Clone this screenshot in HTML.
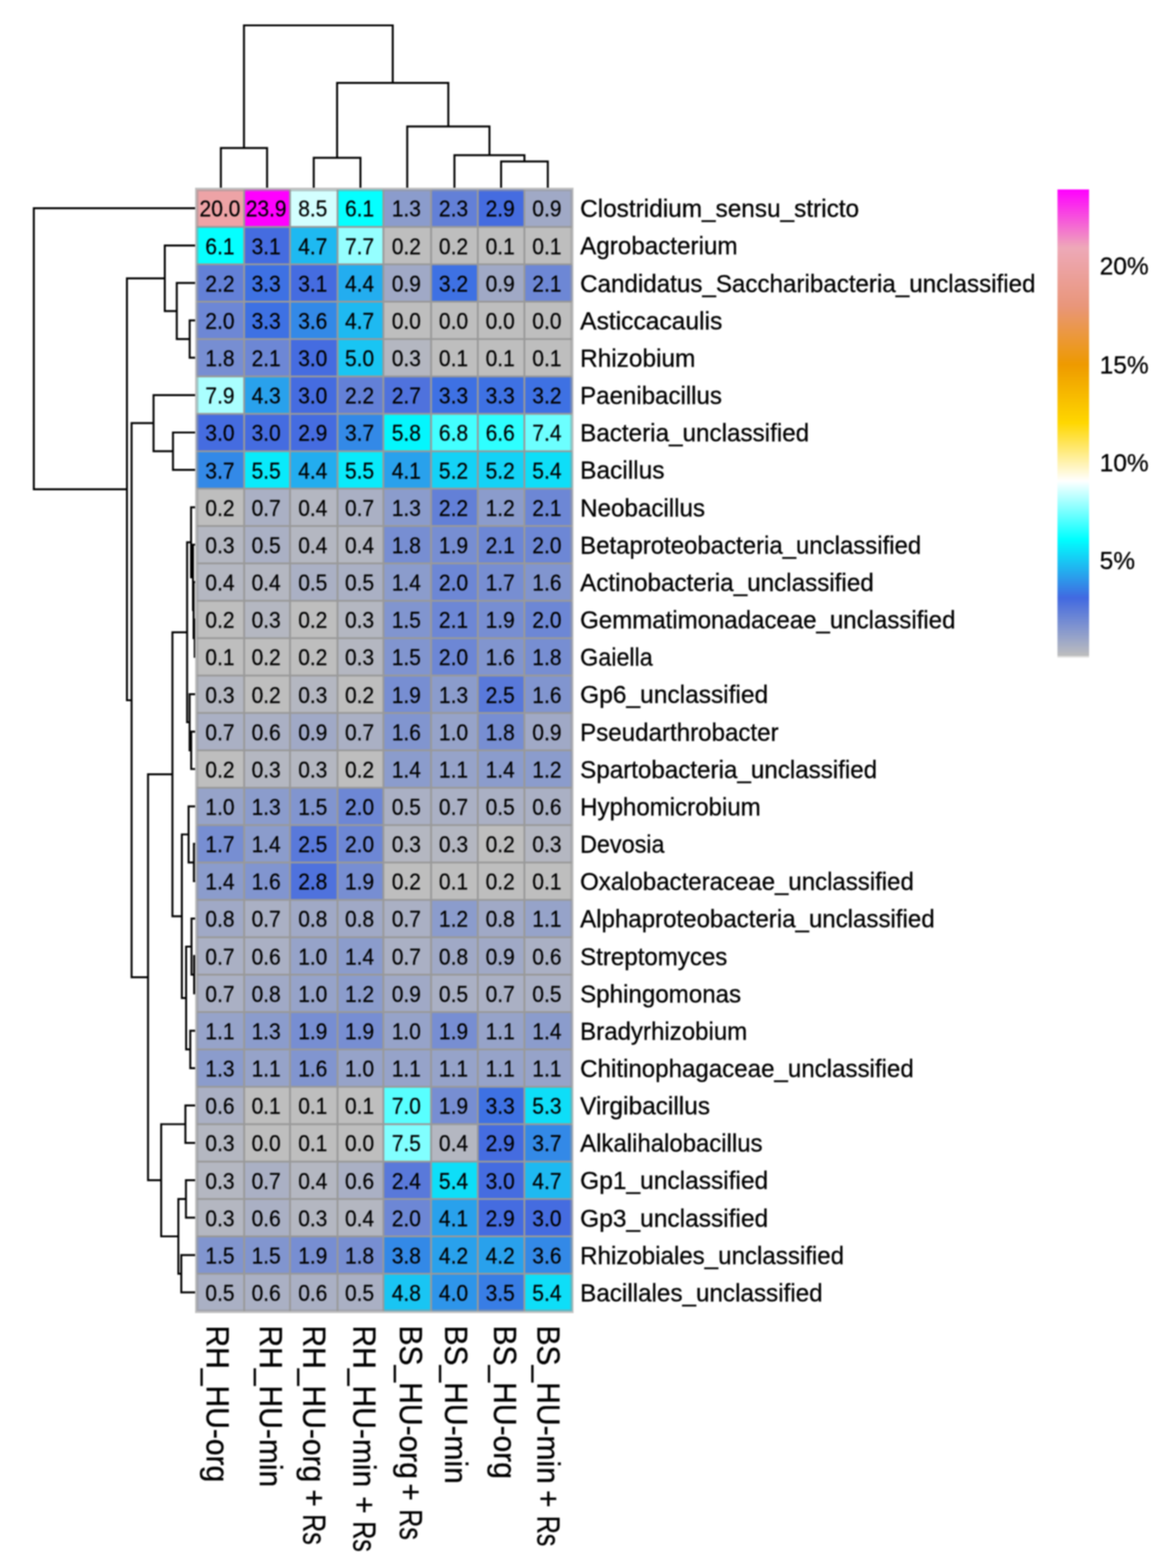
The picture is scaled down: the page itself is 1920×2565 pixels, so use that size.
<!DOCTYPE html>
<html><head><meta charset="utf-8"><title>Heatmap</title><style>html,body{margin:0;padding:0;background:#fff;}svg{display:block;filter:blur(1px);}</style></head><body>
<svg width="1920" height="2565" viewBox="0 0 1920 2565">
<rect width="1920" height="2565" fill="#FFFFFF"/>
<path d="M321.6 1013.3 L318.4 1013.3 L318.4 1074.5 L321.6 1074.5 M321.6 1563.8 L317.5 1563.8 L317.5 1624.9 L321.6 1624.9 M321.6 1380.3 L317.1 1380.3 L317.1 1441.5 L321.6 1441.5 M321.6 952.2 L316.6 952.2 L316.6 1043.9 L318.4 1043.9 M321.6 891.0 L315.6 891.0 L315.6 998.0 L316.6 998.0 M321.6 1502.6 L313.2 1502.6 L313.2 1594.4 L317.5 1594.4 M321.6 1196.8 L312.7 1196.8 L312.7 1258.0 L321.6 1258.0 M321.6 829.9 L312.5 829.9 L312.5 944.5 L315.6 944.5 M321.6 1686.1 L311.2 1686.1 L311.2 1747.3 L321.6 1747.3 M321.6 524.1 L310.2 524.1 L310.2 585.2 L321.6 585.2 M321.6 1135.7 L310.1 1135.7 L310.1 1227.4 L312.7 1227.4 M321.6 1319.1 L308.4 1319.1 L308.4 1410.9 L317.1 1410.9 M312.5 887.2 L306.0 887.2 L306.0 1181.5 L310.1 1181.5 M313.2 1548.5 L304.4 1548.5 L304.4 1716.7 L311.2 1716.7 M321.6 1930.7 L304.1 1930.7 L304.1 1991.9 L321.6 1991.9 M321.6 1808.4 L303.2 1808.4 L303.2 1869.6 L321.6 1869.6 M308.4 1365.0 L297.4 1365.0 L297.4 1632.6 L304.4 1632.6 M321.6 2053.1 L296.5 2053.1 L296.5 2114.2 L321.6 2114.2 M304.1 1961.3 L291.7 1961.3 L291.7 2083.6 L296.5 2083.6 M321.6 462.9 L289.1 462.9 L289.1 554.6 L310.2 554.6 M321.6 707.5 L282.9 707.5 L282.9 768.7 L321.6 768.7 M306.0 1034.4 L282.0 1034.4 L282.0 1498.8 L297.4 1498.8 M321.6 401.7 L269.5 401.7 L269.5 508.8 L289.1 508.8 M303.2 1839.0 L263.6 1839.0 L263.6 2022.5 L291.7 2022.5 M321.6 646.4 L251.1 646.4 L251.1 738.1 L282.9 738.1 M282.0 1266.6 L242.1 1266.6 L242.1 1930.7 L263.6 1930.7 M251.1 692.2 L215.2 692.2 L215.2 1598.7 L242.1 1598.7 M269.5 455.3 L207.6 455.3 L207.6 1145.5 L215.2 1145.5 M321.6 340.6 L55.3 340.6 L55.3 800.4 L207.6 800.4" fill="none" stroke="#000" stroke-width="3.2" stroke-linejoin="miter" stroke-linecap="square"/>
<path d="M819.5 310.2 L819.5 264.1 L895.9 264.1 L895.9 310.2 M513.1 310.2 L513.1 258.1 L589.5 258.1 L589.5 310.2 M743.2 310.2 L743.2 253.9 L857.7 253.9 L857.7 264.1 M361.2 310.2 L361.2 242.2 L436.8 242.2 L436.8 310.2 M666.0 310.2 L666.0 206.8 L800.5 206.8 L800.5 253.9 M551.3 258.1 L551.3 135.6 L733.2 135.6 L733.2 206.8 M399.0 242.2 L399.0 41.5 L642.3 41.5 L642.3 135.6" fill="none" stroke="#000" stroke-width="3.2" stroke-linejoin="miter" stroke-linecap="square"/>
<rect x="319" y="307" width="619" height="1841" fill="#C2C2C2"/>
<rect x="321.7" y="310.0" width="613.8" height="1835.0" fill="#999999"/>
<rect x="321.7" y="310.0" width="76.1" height="59.7" fill="#EDA3A6"/>
<rect x="400.8" y="310.0" width="72.0" height="59.7" fill="#FF00FF"/>
<rect x="475.8" y="310.0" width="74.7" height="59.7" fill="#D3FFFF"/>
<rect x="553.5" y="310.0" width="72.0" height="59.7" fill="#05FFFF"/>
<rect x="628.5" y="310.0" width="75.0" height="59.7" fill="#8B9CCC"/>
<rect x="706.5" y="310.0" width="73.4" height="59.7" fill="#6380D7"/>
<rect x="782.9" y="310.0" width="73.2" height="59.7" fill="#456CE0"/>
<rect x="859.1" y="310.0" width="76.4" height="59.7" fill="#A0A9C6"/>
<rect x="321.7" y="372.7" width="76.1" height="58.2" fill="#05FFFF"/>
<rect x="400.8" y="372.7" width="72.0" height="58.2" fill="#456CE0"/>
<rect x="475.8" y="372.7" width="74.7" height="58.2" fill="#1EB9F1"/>
<rect x="553.5" y="372.7" width="72.0" height="58.2" fill="#95FFFF"/>
<rect x="628.5" y="372.7" width="75.0" height="58.2" fill="#BEBEBE"/>
<rect x="706.5" y="372.7" width="73.4" height="58.2" fill="#BEBEBE"/>
<rect x="782.9" y="372.7" width="73.2" height="58.2" fill="#BEBEBE"/>
<rect x="859.1" y="372.7" width="76.4" height="58.2" fill="#BEBEBE"/>
<rect x="321.7" y="433.8" width="76.1" height="58.2" fill="#6380D7"/>
<rect x="400.8" y="433.8" width="72.0" height="58.2" fill="#3E71E3"/>
<rect x="475.8" y="433.8" width="74.7" height="58.2" fill="#456CE0"/>
<rect x="553.5" y="433.8" width="72.0" height="58.2" fill="#23ADEF"/>
<rect x="628.5" y="433.8" width="75.0" height="58.2" fill="#A0A9C6"/>
<rect x="706.5" y="433.8" width="73.4" height="58.2" fill="#3E71E3"/>
<rect x="782.9" y="433.8" width="73.2" height="58.2" fill="#A0A9C6"/>
<rect x="859.1" y="433.8" width="76.4" height="58.2" fill="#6D87D5"/>
<rect x="321.7" y="495.0" width="76.1" height="58.2" fill="#6D87D5"/>
<rect x="400.8" y="495.0" width="72.0" height="58.2" fill="#3E71E3"/>
<rect x="475.8" y="495.0" width="74.7" height="58.2" fill="#3389E7"/>
<rect x="553.5" y="495.0" width="72.0" height="58.2" fill="#1EB9F1"/>
<rect x="628.5" y="495.0" width="75.0" height="58.2" fill="#BEBEBE"/>
<rect x="706.5" y="495.0" width="73.4" height="58.2" fill="#BEBEBE"/>
<rect x="782.9" y="495.0" width="73.2" height="58.2" fill="#BEBEBE"/>
<rect x="859.1" y="495.0" width="76.4" height="58.2" fill="#BEBEBE"/>
<rect x="321.7" y="556.1" width="76.1" height="58.2" fill="#778ED2"/>
<rect x="400.8" y="556.1" width="72.0" height="58.2" fill="#6D87D5"/>
<rect x="475.8" y="556.1" width="74.7" height="58.2" fill="#456CE0"/>
<rect x="553.5" y="556.1" width="72.0" height="58.2" fill="#19C5F3"/>
<rect x="628.5" y="556.1" width="75.0" height="58.2" fill="#B4B7C1"/>
<rect x="706.5" y="556.1" width="73.4" height="58.2" fill="#BEBEBE"/>
<rect x="782.9" y="556.1" width="73.2" height="58.2" fill="#BEBEBE"/>
<rect x="859.1" y="556.1" width="76.4" height="58.2" fill="#BEBEBE"/>
<rect x="321.7" y="617.3" width="76.1" height="58.2" fill="#AAFFFF"/>
<rect x="400.8" y="617.3" width="72.0" height="58.2" fill="#29A1EC"/>
<rect x="475.8" y="617.3" width="74.7" height="58.2" fill="#456CE0"/>
<rect x="553.5" y="617.3" width="72.0" height="58.2" fill="#6380D7"/>
<rect x="628.5" y="617.3" width="75.0" height="58.2" fill="#4F72DD"/>
<rect x="706.5" y="617.3" width="73.4" height="58.2" fill="#3E71E3"/>
<rect x="782.9" y="617.3" width="73.2" height="58.2" fill="#3E71E3"/>
<rect x="859.1" y="617.3" width="76.4" height="58.2" fill="#3E71E3"/>
<rect x="321.7" y="678.5" width="76.1" height="58.2" fill="#456CE0"/>
<rect x="400.8" y="678.5" width="72.0" height="58.2" fill="#456CE0"/>
<rect x="475.8" y="678.5" width="74.7" height="58.2" fill="#456CE0"/>
<rect x="553.5" y="678.5" width="72.0" height="58.2" fill="#3389E7"/>
<rect x="628.5" y="678.5" width="75.0" height="58.2" fill="#04F6FD"/>
<rect x="706.5" y="678.5" width="73.4" height="58.2" fill="#43FFFF"/>
<rect x="782.9" y="678.5" width="73.2" height="58.2" fill="#2EFFFF"/>
<rect x="859.1" y="678.5" width="76.4" height="58.2" fill="#6CFFFF"/>
<rect x="321.7" y="739.6" width="76.1" height="58.2" fill="#3389E7"/>
<rect x="400.8" y="739.6" width="72.0" height="58.2" fill="#09EAFB"/>
<rect x="475.8" y="739.6" width="74.7" height="58.2" fill="#23ADEF"/>
<rect x="553.5" y="739.6" width="72.0" height="58.2" fill="#09EAFB"/>
<rect x="628.5" y="739.6" width="75.0" height="58.2" fill="#29A1EC"/>
<rect x="706.5" y="739.6" width="73.4" height="58.2" fill="#14D2F6"/>
<rect x="782.9" y="739.6" width="73.2" height="58.2" fill="#14D2F6"/>
<rect x="859.1" y="739.6" width="76.4" height="58.2" fill="#0EDEF8"/>
<rect x="321.7" y="800.8" width="76.1" height="58.2" fill="#BEBEBE"/>
<rect x="400.8" y="800.8" width="72.0" height="58.2" fill="#AAB0C4"/>
<rect x="475.8" y="800.8" width="74.7" height="58.2" fill="#B4B7C1"/>
<rect x="553.5" y="800.8" width="72.0" height="58.2" fill="#AAB0C4"/>
<rect x="628.5" y="800.8" width="75.0" height="58.2" fill="#8B9CCC"/>
<rect x="706.5" y="800.8" width="73.4" height="58.2" fill="#6380D7"/>
<rect x="782.9" y="800.8" width="73.2" height="58.2" fill="#8B9CCC"/>
<rect x="859.1" y="800.8" width="76.4" height="58.2" fill="#6D87D5"/>
<rect x="321.7" y="861.9" width="76.1" height="58.2" fill="#B4B7C1"/>
<rect x="400.8" y="861.9" width="72.0" height="58.2" fill="#AAB0C4"/>
<rect x="475.8" y="861.9" width="74.7" height="58.2" fill="#B4B7C1"/>
<rect x="553.5" y="861.9" width="72.0" height="58.2" fill="#B4B7C1"/>
<rect x="628.5" y="861.9" width="75.0" height="58.2" fill="#778ED2"/>
<rect x="706.5" y="861.9" width="73.4" height="58.2" fill="#778ED2"/>
<rect x="782.9" y="861.9" width="73.2" height="58.2" fill="#6D87D5"/>
<rect x="859.1" y="861.9" width="76.4" height="58.2" fill="#6D87D5"/>
<rect x="321.7" y="923.1" width="76.1" height="58.2" fill="#B4B7C1"/>
<rect x="400.8" y="923.1" width="72.0" height="58.2" fill="#B4B7C1"/>
<rect x="475.8" y="923.1" width="74.7" height="58.2" fill="#AAB0C4"/>
<rect x="553.5" y="923.1" width="72.0" height="58.2" fill="#AAB0C4"/>
<rect x="628.5" y="923.1" width="75.0" height="58.2" fill="#8B9CCC"/>
<rect x="706.5" y="923.1" width="73.4" height="58.2" fill="#6D87D5"/>
<rect x="782.9" y="923.1" width="73.2" height="58.2" fill="#778ED2"/>
<rect x="859.1" y="923.1" width="76.4" height="58.2" fill="#8195CF"/>
<rect x="321.7" y="984.3" width="76.1" height="58.2" fill="#BEBEBE"/>
<rect x="400.8" y="984.3" width="72.0" height="58.2" fill="#B4B7C1"/>
<rect x="475.8" y="984.3" width="74.7" height="58.2" fill="#BEBEBE"/>
<rect x="553.5" y="984.3" width="72.0" height="58.2" fill="#B4B7C1"/>
<rect x="628.5" y="984.3" width="75.0" height="58.2" fill="#8195CF"/>
<rect x="706.5" y="984.3" width="73.4" height="58.2" fill="#6D87D5"/>
<rect x="782.9" y="984.3" width="73.2" height="58.2" fill="#778ED2"/>
<rect x="859.1" y="984.3" width="76.4" height="58.2" fill="#6D87D5"/>
<rect x="321.7" y="1045.4" width="76.1" height="58.2" fill="#BEBEBE"/>
<rect x="400.8" y="1045.4" width="72.0" height="58.2" fill="#BEBEBE"/>
<rect x="475.8" y="1045.4" width="74.7" height="58.2" fill="#BEBEBE"/>
<rect x="553.5" y="1045.4" width="72.0" height="58.2" fill="#B4B7C1"/>
<rect x="628.5" y="1045.4" width="75.0" height="58.2" fill="#8195CF"/>
<rect x="706.5" y="1045.4" width="73.4" height="58.2" fill="#6D87D5"/>
<rect x="782.9" y="1045.4" width="73.2" height="58.2" fill="#8195CF"/>
<rect x="859.1" y="1045.4" width="76.4" height="58.2" fill="#778ED2"/>
<rect x="321.7" y="1106.6" width="76.1" height="58.2" fill="#B4B7C1"/>
<rect x="400.8" y="1106.6" width="72.0" height="58.2" fill="#BEBEBE"/>
<rect x="475.8" y="1106.6" width="74.7" height="58.2" fill="#B4B7C1"/>
<rect x="553.5" y="1106.6" width="72.0" height="58.2" fill="#BEBEBE"/>
<rect x="628.5" y="1106.6" width="75.0" height="58.2" fill="#778ED2"/>
<rect x="706.5" y="1106.6" width="73.4" height="58.2" fill="#8B9CCC"/>
<rect x="782.9" y="1106.6" width="73.2" height="58.2" fill="#5979DA"/>
<rect x="859.1" y="1106.6" width="76.4" height="58.2" fill="#8195CF"/>
<rect x="321.7" y="1167.7" width="76.1" height="58.2" fill="#AAB0C4"/>
<rect x="400.8" y="1167.7" width="72.0" height="58.2" fill="#AAB0C4"/>
<rect x="475.8" y="1167.7" width="74.7" height="58.2" fill="#A0A9C6"/>
<rect x="553.5" y="1167.7" width="72.0" height="58.2" fill="#AAB0C4"/>
<rect x="628.5" y="1167.7" width="75.0" height="58.2" fill="#8195CF"/>
<rect x="706.5" y="1167.7" width="73.4" height="58.2" fill="#96A3C9"/>
<rect x="782.9" y="1167.7" width="73.2" height="58.2" fill="#778ED2"/>
<rect x="859.1" y="1167.7" width="76.4" height="58.2" fill="#A0A9C6"/>
<rect x="321.7" y="1228.9" width="76.1" height="58.2" fill="#BEBEBE"/>
<rect x="400.8" y="1228.9" width="72.0" height="58.2" fill="#B4B7C1"/>
<rect x="475.8" y="1228.9" width="74.7" height="58.2" fill="#B4B7C1"/>
<rect x="553.5" y="1228.9" width="72.0" height="58.2" fill="#BEBEBE"/>
<rect x="628.5" y="1228.9" width="75.0" height="58.2" fill="#8B9CCC"/>
<rect x="706.5" y="1228.9" width="73.4" height="58.2" fill="#96A3C9"/>
<rect x="782.9" y="1228.9" width="73.2" height="58.2" fill="#8B9CCC"/>
<rect x="859.1" y="1228.9" width="76.4" height="58.2" fill="#8B9CCC"/>
<rect x="321.7" y="1290.1" width="76.1" height="58.2" fill="#96A3C9"/>
<rect x="400.8" y="1290.1" width="72.0" height="58.2" fill="#8B9CCC"/>
<rect x="475.8" y="1290.1" width="74.7" height="58.2" fill="#8195CF"/>
<rect x="553.5" y="1290.1" width="72.0" height="58.2" fill="#6D87D5"/>
<rect x="628.5" y="1290.1" width="75.0" height="58.2" fill="#AAB0C4"/>
<rect x="706.5" y="1290.1" width="73.4" height="58.2" fill="#AAB0C4"/>
<rect x="782.9" y="1290.1" width="73.2" height="58.2" fill="#AAB0C4"/>
<rect x="859.1" y="1290.1" width="76.4" height="58.2" fill="#AAB0C4"/>
<rect x="321.7" y="1351.2" width="76.1" height="58.2" fill="#778ED2"/>
<rect x="400.8" y="1351.2" width="72.0" height="58.2" fill="#8B9CCC"/>
<rect x="475.8" y="1351.2" width="74.7" height="58.2" fill="#5979DA"/>
<rect x="553.5" y="1351.2" width="72.0" height="58.2" fill="#6D87D5"/>
<rect x="628.5" y="1351.2" width="75.0" height="58.2" fill="#B4B7C1"/>
<rect x="706.5" y="1351.2" width="73.4" height="58.2" fill="#B4B7C1"/>
<rect x="782.9" y="1351.2" width="73.2" height="58.2" fill="#BEBEBE"/>
<rect x="859.1" y="1351.2" width="76.4" height="58.2" fill="#B4B7C1"/>
<rect x="321.7" y="1412.4" width="76.1" height="58.2" fill="#8B9CCC"/>
<rect x="400.8" y="1412.4" width="72.0" height="58.2" fill="#8195CF"/>
<rect x="475.8" y="1412.4" width="74.7" height="58.2" fill="#4F72DD"/>
<rect x="553.5" y="1412.4" width="72.0" height="58.2" fill="#778ED2"/>
<rect x="628.5" y="1412.4" width="75.0" height="58.2" fill="#BEBEBE"/>
<rect x="706.5" y="1412.4" width="73.4" height="58.2" fill="#BEBEBE"/>
<rect x="782.9" y="1412.4" width="73.2" height="58.2" fill="#BEBEBE"/>
<rect x="859.1" y="1412.4" width="76.4" height="58.2" fill="#BEBEBE"/>
<rect x="321.7" y="1473.5" width="76.1" height="58.2" fill="#A0A9C6"/>
<rect x="400.8" y="1473.5" width="72.0" height="58.2" fill="#AAB0C4"/>
<rect x="475.8" y="1473.5" width="74.7" height="58.2" fill="#A0A9C6"/>
<rect x="553.5" y="1473.5" width="72.0" height="58.2" fill="#A0A9C6"/>
<rect x="628.5" y="1473.5" width="75.0" height="58.2" fill="#AAB0C4"/>
<rect x="706.5" y="1473.5" width="73.4" height="58.2" fill="#8B9CCC"/>
<rect x="782.9" y="1473.5" width="73.2" height="58.2" fill="#A0A9C6"/>
<rect x="859.1" y="1473.5" width="76.4" height="58.2" fill="#96A3C9"/>
<rect x="321.7" y="1534.7" width="76.1" height="58.2" fill="#AAB0C4"/>
<rect x="400.8" y="1534.7" width="72.0" height="58.2" fill="#AAB0C4"/>
<rect x="475.8" y="1534.7" width="74.7" height="58.2" fill="#96A3C9"/>
<rect x="553.5" y="1534.7" width="72.0" height="58.2" fill="#8B9CCC"/>
<rect x="628.5" y="1534.7" width="75.0" height="58.2" fill="#AAB0C4"/>
<rect x="706.5" y="1534.7" width="73.4" height="58.2" fill="#A0A9C6"/>
<rect x="782.9" y="1534.7" width="73.2" height="58.2" fill="#A0A9C6"/>
<rect x="859.1" y="1534.7" width="76.4" height="58.2" fill="#AAB0C4"/>
<rect x="321.7" y="1595.9" width="76.1" height="58.2" fill="#AAB0C4"/>
<rect x="400.8" y="1595.9" width="72.0" height="58.2" fill="#A0A9C6"/>
<rect x="475.8" y="1595.9" width="74.7" height="58.2" fill="#96A3C9"/>
<rect x="553.5" y="1595.9" width="72.0" height="58.2" fill="#8B9CCC"/>
<rect x="628.5" y="1595.9" width="75.0" height="58.2" fill="#A0A9C6"/>
<rect x="706.5" y="1595.9" width="73.4" height="58.2" fill="#AAB0C4"/>
<rect x="782.9" y="1595.9" width="73.2" height="58.2" fill="#AAB0C4"/>
<rect x="859.1" y="1595.9" width="76.4" height="58.2" fill="#AAB0C4"/>
<rect x="321.7" y="1657.0" width="76.1" height="58.2" fill="#96A3C9"/>
<rect x="400.8" y="1657.0" width="72.0" height="58.2" fill="#8B9CCC"/>
<rect x="475.8" y="1657.0" width="74.7" height="58.2" fill="#778ED2"/>
<rect x="553.5" y="1657.0" width="72.0" height="58.2" fill="#778ED2"/>
<rect x="628.5" y="1657.0" width="75.0" height="58.2" fill="#96A3C9"/>
<rect x="706.5" y="1657.0" width="73.4" height="58.2" fill="#778ED2"/>
<rect x="782.9" y="1657.0" width="73.2" height="58.2" fill="#96A3C9"/>
<rect x="859.1" y="1657.0" width="76.4" height="58.2" fill="#8B9CCC"/>
<rect x="321.7" y="1718.2" width="76.1" height="58.2" fill="#8B9CCC"/>
<rect x="400.8" y="1718.2" width="72.0" height="58.2" fill="#96A3C9"/>
<rect x="475.8" y="1718.2" width="74.7" height="58.2" fill="#8195CF"/>
<rect x="553.5" y="1718.2" width="72.0" height="58.2" fill="#96A3C9"/>
<rect x="628.5" y="1718.2" width="75.0" height="58.2" fill="#96A3C9"/>
<rect x="706.5" y="1718.2" width="73.4" height="58.2" fill="#96A3C9"/>
<rect x="782.9" y="1718.2" width="73.2" height="58.2" fill="#96A3C9"/>
<rect x="859.1" y="1718.2" width="76.4" height="58.2" fill="#96A3C9"/>
<rect x="321.7" y="1779.3" width="76.1" height="58.2" fill="#AAB0C4"/>
<rect x="400.8" y="1779.3" width="72.0" height="58.2" fill="#BEBEBE"/>
<rect x="475.8" y="1779.3" width="74.7" height="58.2" fill="#BEBEBE"/>
<rect x="553.5" y="1779.3" width="72.0" height="58.2" fill="#BEBEBE"/>
<rect x="628.5" y="1779.3" width="75.0" height="58.2" fill="#58FFFF"/>
<rect x="706.5" y="1779.3" width="73.4" height="58.2" fill="#778ED2"/>
<rect x="782.9" y="1779.3" width="73.2" height="58.2" fill="#3E71E3"/>
<rect x="859.1" y="1779.3" width="76.4" height="58.2" fill="#0EDEF8"/>
<rect x="321.7" y="1840.5" width="76.1" height="58.2" fill="#B4B7C1"/>
<rect x="400.8" y="1840.5" width="72.0" height="58.2" fill="#BEBEBE"/>
<rect x="475.8" y="1840.5" width="74.7" height="58.2" fill="#BEBEBE"/>
<rect x="553.5" y="1840.5" width="72.0" height="58.2" fill="#BEBEBE"/>
<rect x="628.5" y="1840.5" width="75.0" height="58.2" fill="#81FFFF"/>
<rect x="706.5" y="1840.5" width="73.4" height="58.2" fill="#B4B7C1"/>
<rect x="782.9" y="1840.5" width="73.2" height="58.2" fill="#456CE0"/>
<rect x="859.1" y="1840.5" width="76.4" height="58.2" fill="#3389E7"/>
<rect x="321.7" y="1901.7" width="76.1" height="58.2" fill="#B4B7C1"/>
<rect x="400.8" y="1901.7" width="72.0" height="58.2" fill="#AAB0C4"/>
<rect x="475.8" y="1901.7" width="74.7" height="58.2" fill="#B4B7C1"/>
<rect x="553.5" y="1901.7" width="72.0" height="58.2" fill="#AAB0C4"/>
<rect x="628.5" y="1901.7" width="75.0" height="58.2" fill="#5979DA"/>
<rect x="706.5" y="1901.7" width="73.4" height="58.2" fill="#0EDEF8"/>
<rect x="782.9" y="1901.7" width="73.2" height="58.2" fill="#456CE0"/>
<rect x="859.1" y="1901.7" width="76.4" height="58.2" fill="#1EB9F1"/>
<rect x="321.7" y="1962.8" width="76.1" height="58.2" fill="#B4B7C1"/>
<rect x="400.8" y="1962.8" width="72.0" height="58.2" fill="#AAB0C4"/>
<rect x="475.8" y="1962.8" width="74.7" height="58.2" fill="#B4B7C1"/>
<rect x="553.5" y="1962.8" width="72.0" height="58.2" fill="#B4B7C1"/>
<rect x="628.5" y="1962.8" width="75.0" height="58.2" fill="#6D87D5"/>
<rect x="706.5" y="1962.8" width="73.4" height="58.2" fill="#29A1EC"/>
<rect x="782.9" y="1962.8" width="73.2" height="58.2" fill="#456CE0"/>
<rect x="859.1" y="1962.8" width="76.4" height="58.2" fill="#456CE0"/>
<rect x="321.7" y="2024.0" width="76.1" height="58.2" fill="#8195CF"/>
<rect x="400.8" y="2024.0" width="72.0" height="58.2" fill="#8195CF"/>
<rect x="475.8" y="2024.0" width="74.7" height="58.2" fill="#778ED2"/>
<rect x="553.5" y="2024.0" width="72.0" height="58.2" fill="#778ED2"/>
<rect x="628.5" y="2024.0" width="75.0" height="58.2" fill="#3389E7"/>
<rect x="706.5" y="2024.0" width="73.4" height="58.2" fill="#29A1EC"/>
<rect x="782.9" y="2024.0" width="73.2" height="58.2" fill="#29A1EC"/>
<rect x="859.1" y="2024.0" width="76.4" height="58.2" fill="#3389E7"/>
<rect x="321.7" y="2085.1" width="76.1" height="59.9" fill="#AAB0C4"/>
<rect x="400.8" y="2085.1" width="72.0" height="59.9" fill="#AAB0C4"/>
<rect x="475.8" y="2085.1" width="74.7" height="59.9" fill="#AAB0C4"/>
<rect x="553.5" y="2085.1" width="72.0" height="59.9" fill="#AAB0C4"/>
<rect x="628.5" y="2085.1" width="75.0" height="59.9" fill="#19C5F3"/>
<rect x="706.5" y="2085.1" width="73.4" height="59.9" fill="#2E95EA"/>
<rect x="782.9" y="2085.1" width="73.2" height="59.9" fill="#387DE5"/>
<rect x="859.1" y="2085.1" width="76.4" height="59.9" fill="#0EDEF8"/>
<path d="M321.7 310.0H935.5V2145.0H321.7Z M324.59999999999997 312.9V2142.1H932.6V312.9Z" fill="#999999" fill-opacity="0.55" fill-rule="evenodd"/>
<g font-family="Liberation Sans, Arial, sans-serif" font-size="34.3" fill="#000" stroke="#000" stroke-width="0.3" text-anchor="middle">
<text transform="translate(359.7 354.4) scale(1 1.05)">20.0</text>
<text transform="translate(435.3 354.4) scale(1 1.05)">23.9</text>
<text transform="translate(511.6 354.4) scale(1 1.05)">8.5</text>
<text transform="translate(588.0 354.4) scale(1 1.05)">6.1</text>
<text transform="translate(664.5 354.4) scale(1 1.05)">1.3</text>
<text transform="translate(741.7 354.4) scale(1 1.05)">2.3</text>
<text transform="translate(818.0 354.4) scale(1 1.05)">2.9</text>
<text transform="translate(894.4 354.4) scale(1 1.05)">0.9</text>
<text transform="translate(359.7 415.5) scale(1 1.05)">6.1</text>
<text transform="translate(435.3 415.5) scale(1 1.05)">3.1</text>
<text transform="translate(511.6 415.5) scale(1 1.05)">4.7</text>
<text transform="translate(588.0 415.5) scale(1 1.05)">7.7</text>
<text transform="translate(664.5 415.5) scale(1 1.05)">0.2</text>
<text transform="translate(741.7 415.5) scale(1 1.05)">0.2</text>
<text transform="translate(818.0 415.5) scale(1 1.05)">0.1</text>
<text transform="translate(894.4 415.5) scale(1 1.05)">0.1</text>
<text transform="translate(359.7 476.7) scale(1 1.05)">2.2</text>
<text transform="translate(435.3 476.7) scale(1 1.05)">3.3</text>
<text transform="translate(511.6 476.7) scale(1 1.05)">3.1</text>
<text transform="translate(588.0 476.7) scale(1 1.05)">4.4</text>
<text transform="translate(664.5 476.7) scale(1 1.05)">0.9</text>
<text transform="translate(741.7 476.7) scale(1 1.05)">3.2</text>
<text transform="translate(818.0 476.7) scale(1 1.05)">0.9</text>
<text transform="translate(894.4 476.7) scale(1 1.05)">2.1</text>
<text transform="translate(359.7 537.9) scale(1 1.05)">2.0</text>
<text transform="translate(435.3 537.9) scale(1 1.05)">3.3</text>
<text transform="translate(511.6 537.9) scale(1 1.05)">3.6</text>
<text transform="translate(588.0 537.9) scale(1 1.05)">4.7</text>
<text transform="translate(664.5 537.9) scale(1 1.05)">0.0</text>
<text transform="translate(741.7 537.9) scale(1 1.05)">0.0</text>
<text transform="translate(818.0 537.9) scale(1 1.05)">0.0</text>
<text transform="translate(894.4 537.9) scale(1 1.05)">0.0</text>
<text transform="translate(359.7 599.0) scale(1 1.05)">1.8</text>
<text transform="translate(435.3 599.0) scale(1 1.05)">2.1</text>
<text transform="translate(511.6 599.0) scale(1 1.05)">3.0</text>
<text transform="translate(588.0 599.0) scale(1 1.05)">5.0</text>
<text transform="translate(664.5 599.0) scale(1 1.05)">0.3</text>
<text transform="translate(741.7 599.0) scale(1 1.05)">0.1</text>
<text transform="translate(818.0 599.0) scale(1 1.05)">0.1</text>
<text transform="translate(894.4 599.0) scale(1 1.05)">0.1</text>
<text transform="translate(359.7 660.2) scale(1 1.05)">7.9</text>
<text transform="translate(435.3 660.2) scale(1 1.05)">4.3</text>
<text transform="translate(511.6 660.2) scale(1 1.05)">3.0</text>
<text transform="translate(588.0 660.2) scale(1 1.05)">2.2</text>
<text transform="translate(664.5 660.2) scale(1 1.05)">2.7</text>
<text transform="translate(741.7 660.2) scale(1 1.05)">3.3</text>
<text transform="translate(818.0 660.2) scale(1 1.05)">3.3</text>
<text transform="translate(894.4 660.2) scale(1 1.05)">3.2</text>
<text transform="translate(359.7 721.3) scale(1 1.05)">3.0</text>
<text transform="translate(435.3 721.3) scale(1 1.05)">3.0</text>
<text transform="translate(511.6 721.3) scale(1 1.05)">2.9</text>
<text transform="translate(588.0 721.3) scale(1 1.05)">3.7</text>
<text transform="translate(664.5 721.3) scale(1 1.05)">5.8</text>
<text transform="translate(741.7 721.3) scale(1 1.05)">6.8</text>
<text transform="translate(818.0 721.3) scale(1 1.05)">6.6</text>
<text transform="translate(894.4 721.3) scale(1 1.05)">7.4</text>
<text transform="translate(359.7 782.5) scale(1 1.05)">3.7</text>
<text transform="translate(435.3 782.5) scale(1 1.05)">5.5</text>
<text transform="translate(511.6 782.5) scale(1 1.05)">4.4</text>
<text transform="translate(588.0 782.5) scale(1 1.05)">5.5</text>
<text transform="translate(664.5 782.5) scale(1 1.05)">4.1</text>
<text transform="translate(741.7 782.5) scale(1 1.05)">5.2</text>
<text transform="translate(818.0 782.5) scale(1 1.05)">5.2</text>
<text transform="translate(894.4 782.5) scale(1 1.05)">5.4</text>
<text transform="translate(359.7 843.7) scale(1 1.05)">0.2</text>
<text transform="translate(435.3 843.7) scale(1 1.05)">0.7</text>
<text transform="translate(511.6 843.7) scale(1 1.05)">0.4</text>
<text transform="translate(588.0 843.7) scale(1 1.05)">0.7</text>
<text transform="translate(664.5 843.7) scale(1 1.05)">1.3</text>
<text transform="translate(741.7 843.7) scale(1 1.05)">2.2</text>
<text transform="translate(818.0 843.7) scale(1 1.05)">1.2</text>
<text transform="translate(894.4 843.7) scale(1 1.05)">2.1</text>
<text transform="translate(359.7 904.8) scale(1 1.05)">0.3</text>
<text transform="translate(435.3 904.8) scale(1 1.05)">0.5</text>
<text transform="translate(511.6 904.8) scale(1 1.05)">0.4</text>
<text transform="translate(588.0 904.8) scale(1 1.05)">0.4</text>
<text transform="translate(664.5 904.8) scale(1 1.05)">1.8</text>
<text transform="translate(741.7 904.8) scale(1 1.05)">1.9</text>
<text transform="translate(818.0 904.8) scale(1 1.05)">2.1</text>
<text transform="translate(894.4 904.8) scale(1 1.05)">2.0</text>
<text transform="translate(359.7 966.0) scale(1 1.05)">0.4</text>
<text transform="translate(435.3 966.0) scale(1 1.05)">0.4</text>
<text transform="translate(511.6 966.0) scale(1 1.05)">0.5</text>
<text transform="translate(588.0 966.0) scale(1 1.05)">0.5</text>
<text transform="translate(664.5 966.0) scale(1 1.05)">1.4</text>
<text transform="translate(741.7 966.0) scale(1 1.05)">2.0</text>
<text transform="translate(818.0 966.0) scale(1 1.05)">1.7</text>
<text transform="translate(894.4 966.0) scale(1 1.05)">1.6</text>
<text transform="translate(359.7 1027.1) scale(1 1.05)">0.2</text>
<text transform="translate(435.3 1027.1) scale(1 1.05)">0.3</text>
<text transform="translate(511.6 1027.1) scale(1 1.05)">0.2</text>
<text transform="translate(588.0 1027.1) scale(1 1.05)">0.3</text>
<text transform="translate(664.5 1027.1) scale(1 1.05)">1.5</text>
<text transform="translate(741.7 1027.1) scale(1 1.05)">2.1</text>
<text transform="translate(818.0 1027.1) scale(1 1.05)">1.9</text>
<text transform="translate(894.4 1027.1) scale(1 1.05)">2.0</text>
<text transform="translate(359.7 1088.3) scale(1 1.05)">0.1</text>
<text transform="translate(435.3 1088.3) scale(1 1.05)">0.2</text>
<text transform="translate(511.6 1088.3) scale(1 1.05)">0.2</text>
<text transform="translate(588.0 1088.3) scale(1 1.05)">0.3</text>
<text transform="translate(664.5 1088.3) scale(1 1.05)">1.5</text>
<text transform="translate(741.7 1088.3) scale(1 1.05)">2.0</text>
<text transform="translate(818.0 1088.3) scale(1 1.05)">1.6</text>
<text transform="translate(894.4 1088.3) scale(1 1.05)">1.8</text>
<text transform="translate(359.7 1149.5) scale(1 1.05)">0.3</text>
<text transform="translate(435.3 1149.5) scale(1 1.05)">0.2</text>
<text transform="translate(511.6 1149.5) scale(1 1.05)">0.3</text>
<text transform="translate(588.0 1149.5) scale(1 1.05)">0.2</text>
<text transform="translate(664.5 1149.5) scale(1 1.05)">1.9</text>
<text transform="translate(741.7 1149.5) scale(1 1.05)">1.3</text>
<text transform="translate(818.0 1149.5) scale(1 1.05)">2.5</text>
<text transform="translate(894.4 1149.5) scale(1 1.05)">1.6</text>
<text transform="translate(359.7 1210.6) scale(1 1.05)">0.7</text>
<text transform="translate(435.3 1210.6) scale(1 1.05)">0.6</text>
<text transform="translate(511.6 1210.6) scale(1 1.05)">0.9</text>
<text transform="translate(588.0 1210.6) scale(1 1.05)">0.7</text>
<text transform="translate(664.5 1210.6) scale(1 1.05)">1.6</text>
<text transform="translate(741.7 1210.6) scale(1 1.05)">1.0</text>
<text transform="translate(818.0 1210.6) scale(1 1.05)">1.8</text>
<text transform="translate(894.4 1210.6) scale(1 1.05)">0.9</text>
<text transform="translate(359.7 1271.8) scale(1 1.05)">0.2</text>
<text transform="translate(435.3 1271.8) scale(1 1.05)">0.3</text>
<text transform="translate(511.6 1271.8) scale(1 1.05)">0.3</text>
<text transform="translate(588.0 1271.8) scale(1 1.05)">0.2</text>
<text transform="translate(664.5 1271.8) scale(1 1.05)">1.4</text>
<text transform="translate(741.7 1271.8) scale(1 1.05)">1.1</text>
<text transform="translate(818.0 1271.8) scale(1 1.05)">1.4</text>
<text transform="translate(894.4 1271.8) scale(1 1.05)">1.2</text>
<text transform="translate(359.7 1332.9) scale(1 1.05)">1.0</text>
<text transform="translate(435.3 1332.9) scale(1 1.05)">1.3</text>
<text transform="translate(511.6 1332.9) scale(1 1.05)">1.5</text>
<text transform="translate(588.0 1332.9) scale(1 1.05)">2.0</text>
<text transform="translate(664.5 1332.9) scale(1 1.05)">0.5</text>
<text transform="translate(741.7 1332.9) scale(1 1.05)">0.7</text>
<text transform="translate(818.0 1332.9) scale(1 1.05)">0.5</text>
<text transform="translate(894.4 1332.9) scale(1 1.05)">0.6</text>
<text transform="translate(359.7 1394.1) scale(1 1.05)">1.7</text>
<text transform="translate(435.3 1394.1) scale(1 1.05)">1.4</text>
<text transform="translate(511.6 1394.1) scale(1 1.05)">2.5</text>
<text transform="translate(588.0 1394.1) scale(1 1.05)">2.0</text>
<text transform="translate(664.5 1394.1) scale(1 1.05)">0.3</text>
<text transform="translate(741.7 1394.1) scale(1 1.05)">0.3</text>
<text transform="translate(818.0 1394.1) scale(1 1.05)">0.2</text>
<text transform="translate(894.4 1394.1) scale(1 1.05)">0.3</text>
<text transform="translate(359.7 1455.3) scale(1 1.05)">1.4</text>
<text transform="translate(435.3 1455.3) scale(1 1.05)">1.6</text>
<text transform="translate(511.6 1455.3) scale(1 1.05)">2.8</text>
<text transform="translate(588.0 1455.3) scale(1 1.05)">1.9</text>
<text transform="translate(664.5 1455.3) scale(1 1.05)">0.2</text>
<text transform="translate(741.7 1455.3) scale(1 1.05)">0.1</text>
<text transform="translate(818.0 1455.3) scale(1 1.05)">0.2</text>
<text transform="translate(894.4 1455.3) scale(1 1.05)">0.1</text>
<text transform="translate(359.7 1516.4) scale(1 1.05)">0.8</text>
<text transform="translate(435.3 1516.4) scale(1 1.05)">0.7</text>
<text transform="translate(511.6 1516.4) scale(1 1.05)">0.8</text>
<text transform="translate(588.0 1516.4) scale(1 1.05)">0.8</text>
<text transform="translate(664.5 1516.4) scale(1 1.05)">0.7</text>
<text transform="translate(741.7 1516.4) scale(1 1.05)">1.2</text>
<text transform="translate(818.0 1516.4) scale(1 1.05)">0.8</text>
<text transform="translate(894.4 1516.4) scale(1 1.05)">1.1</text>
<text transform="translate(359.7 1577.6) scale(1 1.05)">0.7</text>
<text transform="translate(435.3 1577.6) scale(1 1.05)">0.6</text>
<text transform="translate(511.6 1577.6) scale(1 1.05)">1.0</text>
<text transform="translate(588.0 1577.6) scale(1 1.05)">1.4</text>
<text transform="translate(664.5 1577.6) scale(1 1.05)">0.7</text>
<text transform="translate(741.7 1577.6) scale(1 1.05)">0.8</text>
<text transform="translate(818.0 1577.6) scale(1 1.05)">0.9</text>
<text transform="translate(894.4 1577.6) scale(1 1.05)">0.6</text>
<text transform="translate(359.7 1638.7) scale(1 1.05)">0.7</text>
<text transform="translate(435.3 1638.7) scale(1 1.05)">0.8</text>
<text transform="translate(511.6 1638.7) scale(1 1.05)">1.0</text>
<text transform="translate(588.0 1638.7) scale(1 1.05)">1.2</text>
<text transform="translate(664.5 1638.7) scale(1 1.05)">0.9</text>
<text transform="translate(741.7 1638.7) scale(1 1.05)">0.5</text>
<text transform="translate(818.0 1638.7) scale(1 1.05)">0.7</text>
<text transform="translate(894.4 1638.7) scale(1 1.05)">0.5</text>
<text transform="translate(359.7 1699.9) scale(1 1.05)">1.1</text>
<text transform="translate(435.3 1699.9) scale(1 1.05)">1.3</text>
<text transform="translate(511.6 1699.9) scale(1 1.05)">1.9</text>
<text transform="translate(588.0 1699.9) scale(1 1.05)">1.9</text>
<text transform="translate(664.5 1699.9) scale(1 1.05)">1.0</text>
<text transform="translate(741.7 1699.9) scale(1 1.05)">1.9</text>
<text transform="translate(818.0 1699.9) scale(1 1.05)">1.1</text>
<text transform="translate(894.4 1699.9) scale(1 1.05)">1.4</text>
<text transform="translate(359.7 1761.1) scale(1 1.05)">1.3</text>
<text transform="translate(435.3 1761.1) scale(1 1.05)">1.1</text>
<text transform="translate(511.6 1761.1) scale(1 1.05)">1.6</text>
<text transform="translate(588.0 1761.1) scale(1 1.05)">1.0</text>
<text transform="translate(664.5 1761.1) scale(1 1.05)">1.1</text>
<text transform="translate(741.7 1761.1) scale(1 1.05)">1.1</text>
<text transform="translate(818.0 1761.1) scale(1 1.05)">1.1</text>
<text transform="translate(894.4 1761.1) scale(1 1.05)">1.1</text>
<text transform="translate(359.7 1822.2) scale(1 1.05)">0.6</text>
<text transform="translate(435.3 1822.2) scale(1 1.05)">0.1</text>
<text transform="translate(511.6 1822.2) scale(1 1.05)">0.1</text>
<text transform="translate(588.0 1822.2) scale(1 1.05)">0.1</text>
<text transform="translate(664.5 1822.2) scale(1 1.05)">7.0</text>
<text transform="translate(741.7 1822.2) scale(1 1.05)">1.9</text>
<text transform="translate(818.0 1822.2) scale(1 1.05)">3.3</text>
<text transform="translate(894.4 1822.2) scale(1 1.05)">5.3</text>
<text transform="translate(359.7 1883.4) scale(1 1.05)">0.3</text>
<text transform="translate(435.3 1883.4) scale(1 1.05)">0.0</text>
<text transform="translate(511.6 1883.4) scale(1 1.05)">0.1</text>
<text transform="translate(588.0 1883.4) scale(1 1.05)">0.0</text>
<text transform="translate(664.5 1883.4) scale(1 1.05)">7.5</text>
<text transform="translate(741.7 1883.4) scale(1 1.05)">0.4</text>
<text transform="translate(818.0 1883.4) scale(1 1.05)">2.9</text>
<text transform="translate(894.4 1883.4) scale(1 1.05)">3.7</text>
<text transform="translate(359.7 1944.5) scale(1 1.05)">0.3</text>
<text transform="translate(435.3 1944.5) scale(1 1.05)">0.7</text>
<text transform="translate(511.6 1944.5) scale(1 1.05)">0.4</text>
<text transform="translate(588.0 1944.5) scale(1 1.05)">0.6</text>
<text transform="translate(664.5 1944.5) scale(1 1.05)">2.4</text>
<text transform="translate(741.7 1944.5) scale(1 1.05)">5.4</text>
<text transform="translate(818.0 1944.5) scale(1 1.05)">3.0</text>
<text transform="translate(894.4 1944.5) scale(1 1.05)">4.7</text>
<text transform="translate(359.7 2005.7) scale(1 1.05)">0.3</text>
<text transform="translate(435.3 2005.7) scale(1 1.05)">0.6</text>
<text transform="translate(511.6 2005.7) scale(1 1.05)">0.3</text>
<text transform="translate(588.0 2005.7) scale(1 1.05)">0.4</text>
<text transform="translate(664.5 2005.7) scale(1 1.05)">2.0</text>
<text transform="translate(741.7 2005.7) scale(1 1.05)">4.1</text>
<text transform="translate(818.0 2005.7) scale(1 1.05)">2.9</text>
<text transform="translate(894.4 2005.7) scale(1 1.05)">3.0</text>
<text transform="translate(359.7 2066.9) scale(1 1.05)">1.5</text>
<text transform="translate(435.3 2066.9) scale(1 1.05)">1.5</text>
<text transform="translate(511.6 2066.9) scale(1 1.05)">1.9</text>
<text transform="translate(588.0 2066.9) scale(1 1.05)">1.8</text>
<text transform="translate(664.5 2066.9) scale(1 1.05)">3.8</text>
<text transform="translate(741.7 2066.9) scale(1 1.05)">4.2</text>
<text transform="translate(818.0 2066.9) scale(1 1.05)">4.2</text>
<text transform="translate(894.4 2066.9) scale(1 1.05)">3.6</text>
<text transform="translate(359.7 2128.0) scale(1 1.05)">0.5</text>
<text transform="translate(435.3 2128.0) scale(1 1.05)">0.6</text>
<text transform="translate(511.6 2128.0) scale(1 1.05)">0.6</text>
<text transform="translate(588.0 2128.0) scale(1 1.05)">0.5</text>
<text transform="translate(664.5 2128.0) scale(1 1.05)">4.8</text>
<text transform="translate(741.7 2128.0) scale(1 1.05)">4.0</text>
<text transform="translate(818.0 2128.0) scale(1 1.05)">3.5</text>
<text transform="translate(894.4 2128.0) scale(1 1.05)">5.4</text>
</g>
<g font-family="Liberation Sans, Arial, sans-serif" font-size="39.75" fill="#000" stroke="#000" stroke-width="0.45">
<text transform="translate(948.8 355.3) scale(1.0027 1)">Clostridium_sensu_stricto</text>
<text transform="translate(948.8 416.4) scale(0.9961 1)">Agrobacterium</text>
<text transform="translate(948.8 477.6) scale(0.9945 1)">Candidatus_Saccharibacteria_unclassified</text>
<text transform="translate(948.8 538.8) scale(1.0123 1)">Asticcacaulis</text>
<text transform="translate(948.8 599.9) scale(1.0032 1)">Rhizobium</text>
<text transform="translate(948.8 661.1) scale(0.9901 1)">Paenibacillus</text>
<text transform="translate(948.8 722.2) scale(0.9973 1)">Bacteria_unclassified</text>
<text transform="translate(948.8 783.4) scale(1.0074 1)">Bacillus</text>
<text transform="translate(948.8 844.6) scale(0.9946 1)">Neobacillus</text>
<text transform="translate(948.8 905.7) scale(0.9863 1)">Betaproteobacteria_unclassified</text>
<text transform="translate(948.8 966.9) scale(0.9969 1)">Actinobacteria_unclassified</text>
<text transform="translate(948.8 1028.0) scale(0.9888 1)">Gemmatimonadaceae_unclassified</text>
<text transform="translate(948.8 1089.2) scale(0.9596 1)">Gaiella</text>
<text transform="translate(948.8 1150.4) scale(1.0089 1)">Gp6_unclassified</text>
<text transform="translate(948.8 1211.5) scale(0.9929 1)">Pseudarthrobacter</text>
<text transform="translate(948.8 1272.7) scale(0.9951 1)">Spartobacteria_unclassified</text>
<text transform="translate(948.8 1333.8) scale(0.9905 1)">Hyphomicrobium</text>
<text transform="translate(948.8 1395.0) scale(0.9603 1)">Devosia</text>
<text transform="translate(948.8 1456.2) scale(0.9882 1)">Oxalobacteraceae_unclassified</text>
<text transform="translate(948.8 1517.3) scale(0.9902 1)">Alphaproteobacteria_unclassified</text>
<text transform="translate(948.8 1578.5) scale(0.9909 1)">Streptomyces</text>
<text transform="translate(948.8 1639.6) scale(0.9928 1)">Sphingomonas</text>
<text transform="translate(948.8 1700.8) scale(0.9898 1)">Bradyrhizobium</text>
<text transform="translate(948.8 1762.0) scale(0.9918 1)">Chitinophagaceae_unclassified</text>
<text transform="translate(948.8 1823.1) scale(1.0048 1)">Virgibacillus</text>
<text transform="translate(948.8 1884.3) scale(0.9854 1)">Alkalihalobacillus</text>
<text transform="translate(948.8 1945.4) scale(1.0089 1)">Gp1_unclassified</text>
<text transform="translate(948.8 2006.6) scale(1.0089 1)">Gp3_unclassified</text>
<text transform="translate(948.8 2067.8) scale(0.9919 1)">Rhizobiales_unclassified</text>
<text transform="translate(948.8 2128.9) scale(0.9975 1)">Bacillales_unclassified</text>
</g>
<g font-family="Liberation Sans, Arial, sans-serif" font-size="49.1" fill="#000" stroke="#000" stroke-width="0.45">
<text transform="translate(338.1 2168.3) rotate(90) scale(1 1.05)">RH_HU-org</text>
<text transform="translate(425.3 2168.3) rotate(90) scale(1 1.05)">RH_HU-min</text>
<text transform="translate(496.4 2168.3) rotate(90) scale(1 1.05)">RH_HU-org<tspan> </tspan></text>
<text transform="translate(496.4 2436.2) rotate(90) scale(1 1.05)">+<tspan> </tspan></text>
<text transform="translate(496.4 2476.8) rotate(90) scale(0.838 1.05)">Rs</text>
<text transform="translate(578.1 2168.3) rotate(90) scale(1 1.05)">RH_HU-min<tspan> </tspan></text>
<text transform="translate(578.1 2447.5) rotate(90) scale(1 1.05)">+<tspan> </tspan></text>
<text transform="translate(578.1 2488.4) rotate(90) scale(0.838 1.05)">Rs</text>
<text transform="translate(654.3 2168.3) rotate(90) scale(1 1.05)">BS_HU-org<tspan> </tspan></text>
<text transform="translate(654.3 2426.4) rotate(90) scale(1 1.05)">+<tspan> </tspan></text>
<text transform="translate(654.3 2468.7) rotate(90) scale(0.838 1.05)">Rs</text>
<text transform="translate(728.3 2168.3) rotate(90) scale(1 1.05)">BS_HU-min</text>
<text transform="translate(807.8 2168.3) rotate(90) scale(1 1.05)">BS_HU-org</text>
<text transform="translate(878.6 2168.3) rotate(90) scale(1 1.05)">BS_HU-min<tspan> </tspan></text>
<text transform="translate(878.6 2437.5) rotate(90) scale(1 1.05)">+<tspan> </tspan></text>
<text transform="translate(878.6 2479.4) rotate(90) scale(0.838 1.05)">Rs</text>
</g>
<defs><linearGradient id="lg" x1="0" y1="1" x2="0" y2="0"><stop offset="0.0000" stop-color="#BEBEBE"/><stop offset="0.1250" stop-color="#4169E1"/><stop offset="0.2500" stop-color="#00FFFF"/><stop offset="0.3750" stop-color="#FFFFFF"/><stop offset="0.5000" stop-color="#FFD700"/><stop offset="0.6250" stop-color="#EE9A00"/><stop offset="0.7500" stop-color="#E9967A"/><stop offset="0.8750" stop-color="#EEA9B8"/><stop offset="1.0000" stop-color="#FF00FF"/></linearGradient></defs>
<rect x="1729.4" y="1073.0" width="51.7" height="2.7" fill="#DDDDDD"/>
<rect x="1729.4" y="309.9" width="51.7" height="763.1" fill="url(#lg)"/>
<g font-family="Liberation Sans, Arial, sans-serif" font-size="40" fill="#000" stroke="#000" stroke-width="0.45">
<text x="1798.5" y="449.2">20%</text>
<text x="1798.5" y="610.5">15%</text>
<text x="1798.5" y="770.5">10%</text>
<text x="1798.5" y="930.5">5%</text>
</g>
</svg>
</body></html>
